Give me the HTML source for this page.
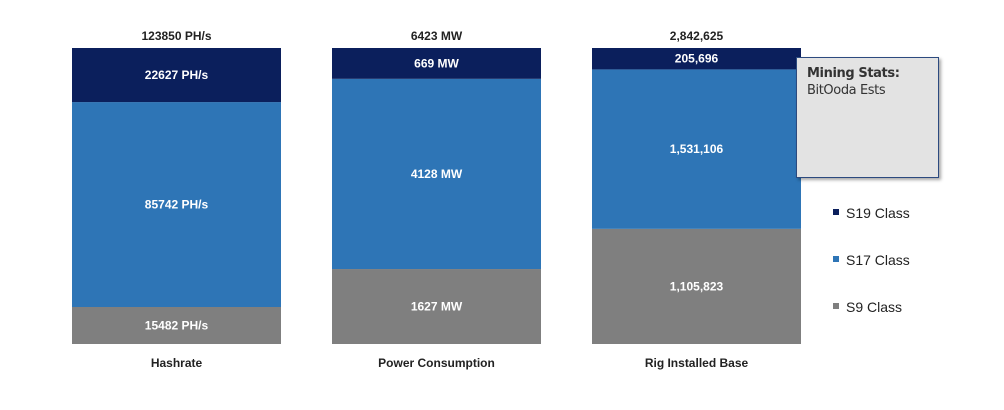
<!DOCTYPE html>
<html><head><meta charset="utf-8"><style>
body{margin:0;background:#fff;width:1004px;height:410px;overflow:hidden;font-family:"Liberation Sans",Arial,sans-serif}
#box{position:absolute;left:796px;top:57px;width:143px;height:121px;background:#e3e3e3;border:1px solid #2c4a7f;box-shadow:2px 2px 3px rgba(0,0,0,.35);font-family:"DejaVu Sans","Liberation Sans",sans-serif;font-size:13px;color:#333;padding:7px 0 0 10px;box-sizing:border-box;line-height:17px;letter-spacing:-0.4px}
</style></head><body>
<svg id="chart" width="1004" height="410" style="position:absolute;left:0;top:0"></svg>
<div id="box"><b>Mining Stats:</b><br>BitOoda Ests</div>
<script>
const categories=["Hashrate","Power Consumption","Rig Installed Base"];
const totalLabels=["123850 PH/s","6423 MW","2,842,625"];
const seriesNames=["S9 Class","S17 Class","S19 Class"];
const s9=[15482,1627,1105823];
const s17=[85742,4128,1531106];
const s19=[22627,669,205696];
const s9Labels=["15482 PH/s","1627 MW","1,105,823"];
const s17Labels=["85742 PH/s","4128 MW","1,531,106"];
const s19Labels=["22627 PH/s","669 MW","205,696"];
const colors=["#7f7f7f","#2e75b6","#0b1f5c"];
const svg=document.getElementById('chart');
const NS="http://www.w3.org/2000/svg";
const top0=48,bot=344,barW=209;
const xPos=i=>72+i*260;
const yScale=f=>bot-f*(bot-top0);
function mk(tag,attrs){const e=document.createElementNS(NS,tag);for(const k in attrs)e.setAttribute(k,attrs[k]);svg.appendChild(e);return e;}
const series=[s9,s17,s19],labs=[s9Labels,s17Labels,s19Labels];
categories.forEach((c,i)=>{
  const tot=s9[i]+s17[i]+s19[i];let cum=0;
  series.forEach((s,j)=>{
    const y1=yScale(cum/tot),y2=yScale((cum+s[i])/tot);cum+=s[i];
    const r=mk('rect',{x:xPos(i),y:y2,width:barW,height:y1-y2,fill:colors[j]});
    
    
    const t=mk('text',{x:xPos(i)+barW/2,y:(y1+y2)/2+4,'text-anchor':'middle','font-size':12,'font-weight':'bold',fill:'#fff'});
    t.textContent=labs[j][i];
    
    
  });
  const tl=mk('text',{x:xPos(i)+barW/2,y:40,'text-anchor':'middle','font-size':12,'font-weight':'bold',fill:'#222'});
  tl.textContent=totalLabels[i];
  
  
  const cl=mk('text',{x:xPos(i)+barW/2,y:367,'text-anchor':'middle','font-size':12,'font-weight':'bold',fill:'#222'});
  cl.textContent=c;
  
  
});
const legY=[308,261,214];
seriesNames.forEach((n,j)=>{
  const r=mk('rect',{x:833,y:legY[j]-5,width:6,height:6,fill:colors[j]});
  
  
  const t=mk('text',{x:846,y:legY[j]+4,'font-size':14,fill:'#222'});
  t.textContent=n;
  
  
});
</script>
</body></html>
